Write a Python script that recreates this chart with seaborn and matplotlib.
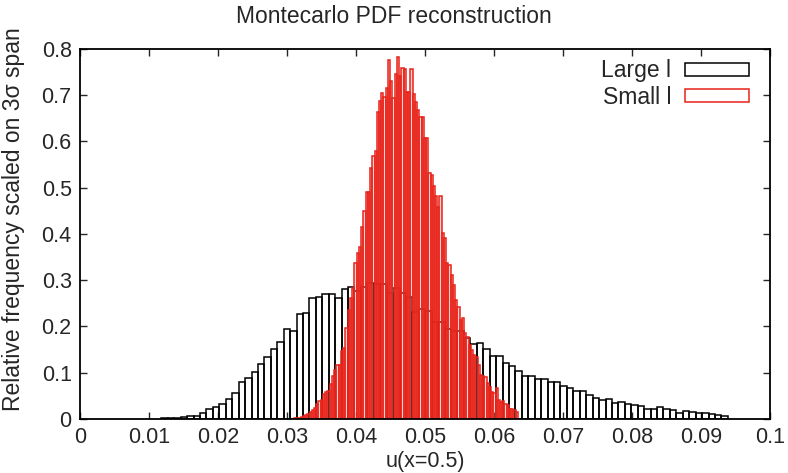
import numpy as np
import pandas as pd
import seaborn as sns
import matplotlib.pyplot as plt
from matplotlib.patches import Rectangle

# Histogram of u(x=0.5) for the large-l ensemble: left edge, bin width, bar heights
large_start = 0.0118
large_width = 0.000933
large_heights = [
    0.002, 0.002, 0.003, 0.004, 0.007, 0.006, 0.014, 0.022, 0.025, 0.032,
    0.043, 0.057, 0.081, 0.089, 0.102, 0.119, 0.135, 0.151, 0.166, 0.195,
    0.191, 0.226, 0.230, 0.262, 0.264, 0.270, 0.270, 0.262, 0.280, 0.285,
    0.277, 0.286, 0.293, 0.291, 0.291, 0.272, 0.283, 0.272, 0.263, 0.232,
    0.237, 0.234, 0.210, 0.210, 0.195, 0.191, 0.191, 0.176, 0.162, 0.165,
    0.151, 0.137, 0.137, 0.120, 0.115, 0.104, 0.093, 0.093, 0.086, 0.087,
    0.081, 0.081, 0.072, 0.068, 0.061, 0.061, 0.051, 0.046, 0.040, 0.043,
    0.035, 0.036, 0.032, 0.030, 0.028, 0.022, 0.022, 0.026, 0.021, 0.019,
    0.014, 0.017, 0.016, 0.012, 0.014, 0.011, 0.009, 0.007,
]

# Histogram for the small-l ensemble
small_start = 0.0310
small_width = 0.0003248
small_heights = [
    0.002, 0.002, 0.003, 0.004, 0.006, 0.009, 0.011, 0.016, 0.020, 0.023,
    0.032, 0.038, 0.042, 0.054, 0.058, 0.061, 0.076, 0.092, 0.106, 0.117,
    0.117, 0.146, 0.154, 0.197, 0.236, 0.261, 0.283, 0.338, 0.358, 0.371,
    0.416, 0.450, 0.491, 0.491, 0.542, 0.569, 0.580, 0.664, 0.688, 0.705,
    0.697, 0.716, 0.776, 0.731, 0.695, 0.745, 0.782, 0.742, 0.758, 0.757,
    0.708, 0.706, 0.756, 0.702, 0.686, 0.668, 0.654, 0.654, 0.607, 0.608,
    0.531, 0.528, 0.504, 0.482, 0.459, 0.482, 0.403, 0.391, 0.337, 0.333,
    0.311, 0.290, 0.257, 0.243, 0.214, 0.218, 0.185, 0.177, 0.160, 0.149,
    0.138, 0.135, 0.117, 0.095, 0.093, 0.090, 0.077, 0.070, 0.059, 0.057,
    0.066, 0.041, 0.037, 0.039, 0.032, 0.030, 0.021, 0.021, 0.019, 0.016,
]

series_names = ["Large l", "Small l"]
series_colors = ["black", "#e8221a"]
series_fills = ["none", (0.95, 0.5, 0.47, 0.35)]

x_ticks = [0, 0.01, 0.02, 0.03, 0.04, 0.05, 0.06, 0.07, 0.08, 0.09, 0.1]
x_tick_labels = ["0", "0.01", "0.02", "0.03", "0.04", "0.05", "0.06",
                 "0.07", "0.08", "0.09", "0.1"]
y_ticks = [0, 0.1, 0.2, 0.3, 0.4, 0.5, 0.6, 0.7, 0.8]
y_tick_labels = ["0", "0.1", "0.2", "0.3", "0.4", "0.5", "0.6", "0.7", "0.8"]


def binned(start, width, heights):
    edges = start + width * np.arange(len(heights) + 1)
    centers = edges[:-1] + width / 2
    return pd.DataFrame({"u": centers, "freq": heights}), edges.tolist()


sns.set_style("ticks")
plt.rcParams["font.family"] = ["Liberation Sans", "DejaVu Sans"]
plt.rcParams["font.size"] = 15

fig = plt.figure(figsize=(7.88, 4.73), dpi=100)
ax = fig.add_axes([0.1015, 0.1142, 0.8755, 0.7822])

datasets = [(large_start, large_width, large_heights),
            (small_start, small_width, small_heights)]
for (start, width, heights), color, fill in zip(datasets, series_colors,
                                                 series_fills):
    n_before = len(ax.patches)
    df, edges = binned(start, width, heights)
    sns.histplot(data=df, x="u", weights="freq", bins=edges, element="bars",
                 fill=False, color=color, linewidth=1.1, ax=ax)
    # light tint inside the outlined boxes
    for bar in ax.patches[n_before:]:
        bar.set_fill(fill != "none")
        if fill != "none":
            bar.set_facecolor(fill)

ax.set_xlim(0, 0.1)
ax.set_ylim(0, 0.8)
ax.set_xticks(x_ticks)
ax.set_xticklabels(x_tick_labels)
ax.set_yticks(y_ticks)
ax.set_yticklabels(y_tick_labels)
ax.tick_params(direction="in", length=5, width=1.0, top=True, right=True,
               labelsize=15.5, pad=6)
for side in ax.spines.values():
    side.set_linewidth(1.3)
    side.set_color("black")

ax.set_xlabel("u(x=0.5)", fontsize=15.5, labelpad=2)
ax.set_ylabel("Relative frequency scaled on 3σ span", fontsize=16.5)
ax.yaxis.set_label_coords(-0.08, 0.54)
fig.suptitle("Montecarlo PDF reconstruction", fontsize=16.5, x=0.5, y=0.99)

handles = [Rectangle((0, 0), 1, 1, facecolor="none", edgecolor=c, linewidth=1.1)
           for c in series_colors]
ax.legend(handles, series_names, loc="upper right", frameon=False,
          markerfirst=False, handlelength=2.8, handleheight=0.5,
          handletextpad=0.6, labelspacing=0.15, fontsize=16.5,
          bbox_to_anchor=(0.993, 1.015), borderaxespad=0.3)

fig.savefig("out.png", dpi=100)
